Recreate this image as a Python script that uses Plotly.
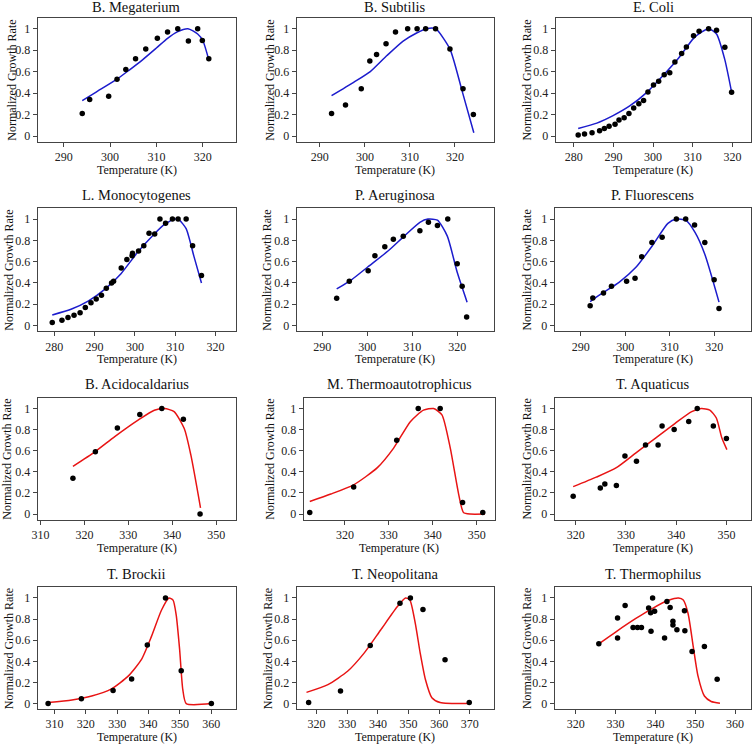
import plotly.graph_objects as go

# ---- data (temperature in K, normalized growth rate) ----
# B. Megaterium
meg_t = [294.0, 295.6, 299.7, 301.5, 303.4, 305.5, 307.7, 310.2, 312.4, 314.6, 316.9, 318.9, 319.9, 321.3]
meg_rate = [0.21, 0.34, 0.37, 0.53, 0.62, 0.72, 0.81, 0.91, 0.97, 1.0, 0.885, 1.0, 0.89, 0.72]
meg_fit_t = [294.0, 297.0, 301.5, 304.0, 307.0, 310.0, 312.4, 314.5, 316.8, 318.9, 320.0, 321.3]
meg_fit = [0.33, 0.41, 0.53, 0.61, 0.71, 0.82, 0.91, 0.97, 1.0, 0.95, 0.89, 0.71]

# B. Subtilis
sub_t = [292.6, 295.7, 299.2, 301.1, 302.6, 304.7, 306.8, 309.5, 311.6, 313.5, 315.7, 318.9, 321.8, 324.1]
sub_rate = [0.21, 0.29, 0.44, 0.70, 0.76, 0.86, 0.97, 1.0, 1.0, 1.0, 1.0, 0.81, 0.44, 0.20]
sub_fit_t = [292.6, 297.5, 301.2, 304.9, 308.5, 311.5, 313.7, 315.7, 318.9, 321.5, 324.2]
sub_fit = [0.376, 0.50, 0.60, 0.75, 0.885, 0.96, 1.0, 1.0, 0.81, 0.435, 0.03]

# E. Coli
coli_t = [281.1, 282.7, 284.6, 286.5, 287.7, 288.9, 290.4, 291.4, 292.7, 293.9, 295.1, 296.4, 297.6,
          298.7, 300.1, 301.4, 302.8, 304.2, 305.5, 307.2, 308.4, 310.2, 311.6, 314.0, 316.0, 318.1, 319.8]
coli_rate = [0.01, 0.02, 0.03, 0.05, 0.07, 0.09, 0.11, 0.15, 0.17, 0.21, 0.26, 0.30, 0.33,
             0.41, 0.475, 0.51, 0.57, 0.59, 0.69, 0.77, 0.83, 0.935, 0.975, 1.0, 0.985, 0.826, 0.407]
coli_fit_t = [281.1, 285.8, 289.9, 294.1, 298.2, 302.4, 306.5, 310.2, 312.3, 314.0, 316.0, 318.1, 319.8]
coli_fit = [0.07, 0.12, 0.19, 0.28, 0.40, 0.56, 0.73, 0.91, 0.97, 1.0, 0.95, 0.71, 0.41]

# L. Monocytogenes
mono_t = [279.5, 281.9, 283.4, 284.9, 286.4, 287.7, 289.1, 290.4, 291.7, 292.9, 294.2, 294.7, 296.6, 298.0,
          299.3, 299.4, 300.9, 302.2, 303.5, 304.9, 306.2, 307.6, 309.3, 310.7, 312.7, 314.3, 316.5]
mono_rate = [0.03, 0.05, 0.075, 0.097, 0.12, 0.17, 0.215, 0.25, 0.284, 0.35, 0.40, 0.416, 0.54, 0.62,
             0.656, 0.68, 0.70, 0.75, 0.866, 0.86, 1.0, 0.96, 1.0, 1.0, 1.0, 0.75, 0.47]
mono_fit_t = [279.5, 284.3, 288.4, 292.5, 296.6, 300.7, 304.8, 307.3, 309.8, 311.0, 312.7, 314.7, 316.5]
mono_fit = [0.10, 0.156, 0.23, 0.34, 0.49, 0.69, 0.86, 0.95, 1.0, 0.99, 0.91, 0.64, 0.40]

# P. Aeruginosa
aer_t = [293.2, 296.0, 300.2, 301.7, 303.9, 305.8, 308.0, 311.7, 313.6, 315.6, 317.9, 320.0, 321.1, 322.1]
aer_rate = [0.256, 0.416, 0.516, 0.656, 0.74, 0.81, 0.84, 0.89, 0.97, 0.94, 1.0, 0.58, 0.37, 0.08]
aer_fit_t = [293.2, 296.5, 300.1, 304.6, 308.2, 311.7, 313.5, 315.6, 317.8, 320.0, 322.2]
aer_fit = [0.344, 0.43, 0.55, 0.70, 0.84, 0.97, 1.0, 0.99, 0.84, 0.50, 0.22]

# P. Fluorescens
flu_t = [292.1, 292.7, 295.1, 296.9, 300.3, 302.2, 303.7, 306.0, 308.3, 311.5, 313.6, 315.6, 317.9, 320.0, 321.1]
flu_rate = [0.186, 0.26, 0.305, 0.37, 0.416, 0.444, 0.646, 0.78, 0.83, 1.0, 1.0, 0.944, 0.78, 0.43, 0.16]
flu_fit_t = [292.1, 294.9, 298.6, 302.4, 306.1, 309.6, 311.5, 313.6, 315.7, 317.9, 321.1]
flu_fit = [0.225, 0.306, 0.406, 0.547, 0.75, 0.96, 1.0, 0.99, 0.875, 0.67, 0.22]

# B. Acidocaldarius
aci_t = [317.4, 322.5, 327.5, 332.6, 337.6, 342.5, 346.3]
aci_rate = [0.34, 0.59, 0.816, 0.944, 1.0, 0.897, 0.0]
aci_fit_t = [317.4, 322.4, 326.9, 332.2, 335.9, 338.2, 340.4, 342.7, 344.2, 346.4]
aci_fit = [0.453, 0.59, 0.734, 0.89, 0.984, 1.0, 0.97, 0.81, 0.56, 0.06]

# M. Thermoautotrophicus
mth_t = [312.0, 322.0, 331.8, 336.7, 341.7, 346.8, 351.4]
mth_rate = [0.016, 0.256, 0.70, 1.0, 1.0, 0.11, 0.016]
mth_fit_t = [312.0, 316.8, 322.1, 327.4, 331.1, 334.9, 337.9, 340.2, 342.1, 344.0, 345.9, 347.0, 348.5, 351.9]
mth_fit = [0.12, 0.19, 0.28, 0.44, 0.625, 0.875, 0.984, 1.0, 0.94, 0.625, 0.19, 0.016, 0.0, 0.0]

# T. Aquaticus
aqu_t = [319.5, 324.9, 325.8, 328.1, 329.8, 332.1, 333.9, 336.4, 337.2, 339.6, 342.5, 344.2, 347.4, 350.0]
aqu_rate = [0.17, 0.248, 0.285, 0.27, 0.55, 0.50, 0.655, 0.655, 0.835, 0.80, 0.876, 1.0, 0.835, 0.717]
aqu_fit_t = [319.5, 324.1, 328.1, 332.0, 335.9, 339.8, 343.1, 345.0, 346.7, 348.0, 349.1, 350.1]
aqu_fit = [0.26, 0.35, 0.44, 0.58, 0.72, 0.86, 0.97, 1.0, 0.985, 0.91, 0.72, 0.61]

# T. Brockii
bro_t = [308.0, 318.6, 328.7, 334.6, 339.6, 345.4, 350.4, 360.0]
bro_rate = [0.0, 0.047, 0.125, 0.234, 0.556, 1.0, 0.31, 0.0]
bro_fit_t = [308.0, 315.6, 321.9, 328.2, 333.5, 337.7, 340.9, 344.1, 346.5, 347.8, 348.8, 349.9, 350.9, 352.0, 360.0]
bro_fit = [0.01, 0.034, 0.072, 0.14, 0.26, 0.416, 0.634, 0.884, 1.0, 0.98, 0.84, 0.51, 0.134, 0.0, 0.0]

# T. Neopolitana
neo_t = [317.4, 327.8, 337.5, 347.2, 350.6, 354.7, 361.9, 369.8]
neo_rate = [0.01, 0.12, 0.55, 0.95, 1.0, 0.89, 0.415, 0.01]
neo_fit_t = [316.7, 323.7, 330.1, 335.5, 340.9, 346.3, 349.0, 350.4, 352.2, 353.8, 355.5, 357.6, 360.3, 369.8]
neo_fit = [0.106, 0.18, 0.306, 0.478, 0.697, 0.916, 1.0, 0.984, 0.76, 0.478, 0.228, 0.056, 0.01, 0.0]

# T. Thermophilus
the_t = [325.8, 330.5, 330.5, 332.4, 334.4, 335.5, 336.5, 338.3, 338.8, 338.9, 339.3, 339.8,
         342.3, 342.9, 343.7, 344.4, 344.4, 345.4, 347.3, 347.4, 349.2, 352.3, 355.5]
the_rate = [0.566, 0.81, 0.62, 0.93, 0.72, 0.72, 0.72, 0.906, 0.86, 0.684, 1.0, 0.875,
            0.62, 0.966, 0.91, 0.78, 0.744, 0.70, 0.88, 0.69, 0.494, 0.54, 0.23]
the_fit_t = [325.8, 330.1, 335.1, 339.2, 343.3, 345.8, 347.0, 348.2, 349.5, 350.7, 352.3, 354.0, 356.2]
the_fit = [0.566, 0.68, 0.806, 0.90, 0.978, 1.0, 0.98, 0.853, 0.54, 0.26, 0.072, 0.02, 0.003]

names = ["B. Megaterium", "B. Subtilis", "E. Coli",
         "L. Monocytogenes", "P. Aeruginosa", "P. Fluorescens",
         "B. Acidocaldarius", "M. Thermoautotrophicus", "T. Aquaticus",
         "T. Brockii", "T. Neopolitana", "T. Thermophilus"]
series = [(meg_t, meg_rate, meg_fit_t, meg_fit), (sub_t, sub_rate, sub_fit_t, sub_fit),
          (coli_t, coli_rate, coli_fit_t, coli_fit), (mono_t, mono_rate, mono_fit_t, mono_fit),
          (aer_t, aer_rate, aer_fit_t, aer_fit), (flu_t, flu_rate, flu_fit_t, flu_fit),
          (aci_t, aci_rate, aci_fit_t, aci_fit), (mth_t, mth_rate, mth_fit_t, mth_fit),
          (aqu_t, aqu_rate, aqu_fit_t, aqu_fit), (bro_t, bro_rate, bro_fit_t, bro_fit),
          (neo_t, neo_rate, neo_fit_t, neo_fit), (the_t, the_rate, the_fit_t, the_fit)]

# ---- layout: plot boxes in pixels (left, right, top, bottom), x ranges ----
W, H = 753, 745
boxes = [(32, 232, 18, 142), (293, 492, 18, 142), (554, 751, 18, 142),
         (32, 232, 209, 332), (293, 492, 209, 332), (553, 751, 209, 332),
         (32, 232, 399, 521), (300, 493, 399, 521), (553, 751, 399, 521),
         (32, 232, 589, 711), (293, 492, 589, 711), (553, 751, 589, 711)]
xranges = [(284.4, 327.2), (284.85, 328.7), (275.4, 324.7),
           (275.9, 325.1), (284.3, 328.2), (284.1, 328.3),
           (309.4, 354.5), (310.6, 354.2), (315.8, 354.9),
           (304.7, 367.9), (313.5, 377.9), (314.7, 364.0)]
ylab_off = [26, 27, 29, 29, 30, 28, 31, 34, 28, 29, 29, 28]

BLUE = "rgb(28,28,205)"
RED = "rgb(232,20,20)"
FONT = "Liberation Serif"

fig = go.Figure()
annotations = []
for i, (name, (t, r, ft, f)) in enumerate(zip(names, series)):
    k = "" if i == 0 else str(i + 1)
    color = BLUE if i < 6 else RED
    fig.add_trace(go.Scatter(x=ft, y=f, mode="lines", line=dict(color=color, width=1.5, shape="spline", smoothing=0.6),
                             xaxis="x" + k, yaxis="y" + k, showlegend=False, hoverinfo="skip"))
    fig.add_trace(go.Scatter(x=t, y=r, mode="markers", marker=dict(color="black", size=5.5),
                             xaxis="x" + k, yaxis="y" + k, showlegend=False))
    l, rr, tp, bt = boxes[i]
    ax = dict(domain=[l / W, rr / W], range=list(xranges[i]), dtick=10, anchor="y" + k,
              showline=True, mirror=True, linecolor="#444", linewidth=1, ticks="outside", ticklen=4,
              tickcolor="#444", showgrid=False, zeroline=False, tickfont=dict(family=FONT, size=12, color="#222"))
    ay = dict(domain=[1 - bt / H, 1 - tp / H], range=[-0.052, 1.1], dtick=0.2, anchor="x" + k,
              showline=True, mirror=True, linecolor="#444", linewidth=1, ticks="outside", ticklen=4,
              tickcolor="#444", showgrid=False, zeroline=False, tickfont=dict(family=FONT, size=12, color="#222"))
    fig.update_layout({"xaxis" + k: ax, "yaxis" + k: ay})
    cx = (l + rr) / 2 / W
    title_y = 7 if i < 3 else tp - 13.5
    annotations.append(dict(text=name, x=cx, y=1 - title_y / H, xref="paper", yref="paper",
                            showarrow=False, font=dict(family=FONT, size=14.5, color="#111"),
                            xanchor="center", yanchor="middle"))
    annotations.append(dict(text="Temperature (K)", x=cx, y=1 - (bt + 28) / H, xref="paper", yref="paper",
                            showarrow=False, font=dict(family=FONT, size=12, color="#111"),
                            xanchor="center", yanchor="middle"))
    annotations.append(dict(text="Normalized Growth Rate", x=(l - ylab_off[i]) / W, y=1 - (tp + bt) / 2 / H,
                            xref="paper", yref="paper", textangle=-90, showarrow=False,
                            font=dict(family=FONT, size=12, color="#111"), xanchor="center", yanchor="middle"))

fig.update_layout(width=W, height=H, margin=dict(l=0, r=0, t=0, b=0),
                  paper_bgcolor="white", plot_bgcolor="white", annotations=annotations)

# the page's default body margin would shift the figure by 8px
fig.write_html("out.html", config={"displayModeBar": False},
               post_script="document.body.style.margin='0';")
